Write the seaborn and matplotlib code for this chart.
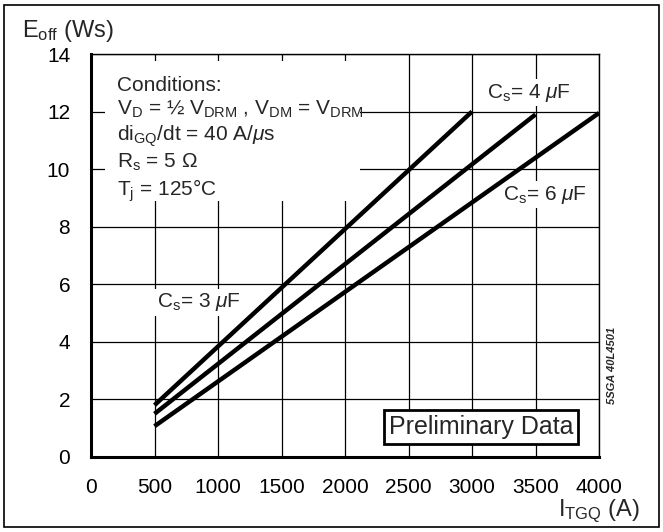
import numpy as np
import pandas as pd
import matplotlib
matplotlib.use("Agg")
import matplotlib.pyplot as plt
import seaborn as sns
from matplotlib.patches import Rectangle

# data (end points of straight lines)
cs_3uF_current = [500, 3000]
cs_3uF_eoff = [1.8, 12.0]
cs_4uF_current = [500, 3500]
cs_4uF_eoff = [1.5, 11.9]
cs_6uF_current = [500, 4000]
cs_6uF_eoff = [1.07, 11.95]

x_ticks = [0, 500, 1000, 1500, 2000, 2500, 3000, 3500, 4000]
y_ticks = [0, 2, 4, 6, 8, 10, 12, 14]

df = pd.concat([
    pd.DataFrame({"current": cs_3uF_current, "eoff": cs_3uF_eoff, "cs": "3"}),
    pd.DataFrame({"current": cs_4uF_current, "eoff": cs_4uF_eoff, "cs": "4"}),
    pd.DataFrame({"current": cs_6uF_current, "eoff": cs_6uF_eoff, "cs": "6"}),
])

sns.set_style("white")
plt.rcParams["font.family"] = ["Liberation Sans", "DejaVu Sans"]
plt.rcParams["mathtext.fontset"] = "custom"
plt.rcParams["mathtext.rm"] = "Liberation Sans"
plt.rcParams["mathtext.it"] = "Liberation Sans:italic"
plt.rcParams["mathtext.bf"] = "Liberation Sans:bold"

fs = 15
fig = plt.figure(figsize=(6.63, 5.32), dpi=100)
ax = fig.add_axes([91 / 663, 1 - 457 / 532, 508 / 663, 403 / 532])

# outer frame
fig.patches.append(Rectangle((4 / 663, 5 / 532), 655 / 663, 522 / 532, transform=fig.transFigure,
                             fill=False, edgecolor="black", linewidth=1.2))

sns.lineplot(data=df, x="current", y="eoff", hue="cs", palette=["black"] * 3,
             linewidth=3.2, legend=False, ax=ax, zorder=5, solid_capstyle="butt")

ax.set_xlim(0, 4000)
ax.set_ylim(0, 14)
ax.set_xticks(x_ticks)
ax.set_yticks(y_ticks)
ax.set_xticklabels([str(v) for v in x_ticks], fontsize=fs)
ax.set_yticklabels([str(v) for v in y_ticks], fontsize=fs)
ax.set_xlabel("")
ax.set_ylabel("")
ax.grid(True, color="black", linewidth=0.9)
ax.set_axisbelow(True)
ax.tick_params(axis="both", direction="out", length=10, width=2, color="black", pad=5, labelcolor="black")

for side in ["left", "bottom"]:
    ax.spines[side].set_linewidth(2.2)
    ax.spines[side].set_color("black")
for side in ["top", "right"]:
    ax.spines[side].set_linewidth(1.0)
    ax.spines[side].set_color("black")

# white area behind the conditions block
ax.add_patch(Rectangle((110, 8.9), 2008, 4.85, facecolor="white", edgecolor="none", zorder=3))

cond_lines = [
    "Conditions:",
    r"V$_\mathregular{D}$ = ½ V$_\mathregular{DRM}$ , V$_\mathregular{DM}$ = V$_\mathregular{DRM}$",
    r"di$_\mathregular{GQ}$/dt = 40 A/$\mathit{\mu}$s",
    r"R$_\mathregular{s}$ = 5 Ω",
    r"T$_\mathregular{j}$ = 125°C",
]
cond_y = [12.72, 11.9, 10.99, 10.05, 9.08]
for txt, yy in zip(cond_lines, cond_y):
    ax.text(205, yy, txt, fontsize=fs, va="baseline", ha="left", zorder=4)

white = dict(facecolor="white", edgecolor="none", pad=2)
ax.text(520, 5.2, r"C$_\mathregular{s}$= 3 $\mathit{\mu}$F", fontsize=fs, va="baseline", bbox=white, zorder=4)
ax.text(3118, 12.48, r"C$_\mathregular{s}$= 4 $\mathit{\mu}$F", fontsize=fs, va="baseline", bbox=white, zorder=4)
ax.text(3244, 8.94, r"C$_\mathregular{s}$= 6 $\mathit{\mu}$F", fontsize=fs, va="baseline", bbox=white, zorder=4)

ax.text(3071, 1.04, "Preliminary Data", fontsize=18, ha="center", va="center", zorder=6,
        bbox=dict(facecolor="white", edgecolor="black", linewidth=2, boxstyle="square,pad=0.2"))

fig.text(612 / 663, 1 - 365 / 532, "5SGA 40L4501", rotation=90, fontsize=8, fontstyle="italic",
         fontweight="bold", ha="center", va="center")

fig.text(22 / 663, 1 - 37 / 532, r"E$_\mathregular{off}$ (Ws)", fontsize=17, ha="left", va="baseline")
fig.text(640 / 663, 1 - 516 / 532, r"I$_\mathregular{TGQ}$ (A)", fontsize=17, ha="right", va="baseline")

fig.savefig("out.png", dpi=100)
